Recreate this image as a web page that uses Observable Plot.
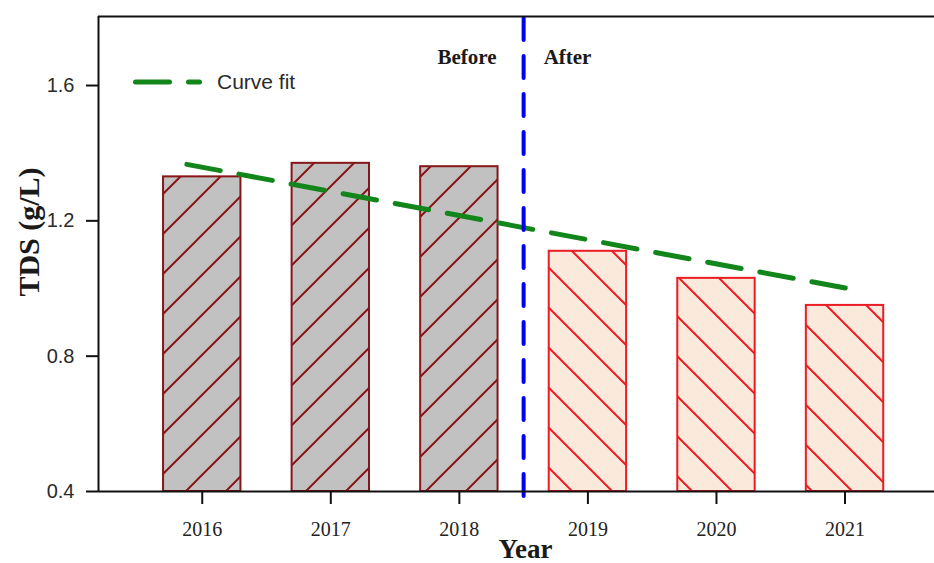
<!DOCTYPE html>
<html><head><meta charset="utf-8">
<script src="https://cdn.jsdelivr.net/npm/d3@7"></script>
<script src="https://cdn.jsdelivr.net/npm/@observablehq/plot@0.6"></script>
<style>
body{margin:0;background:#fff;}
#wrap{position:relative;width:934px;height:563px;overflow:hidden;}
#legendSwatch{position:absolute;left:128px;top:72px;}
#legendText{position:absolute;left:217px;top:69px;font-family:"Liberation Sans",Arial,sans-serif;font-size:21px;line-height:26px;color:#2a2a2a;}
</style></head><body><div id="wrap"></div>
<script>
// ---- data ----
const years = [2016, 2017, 2018, 2019, 2020, 2021];
const tds = [1.33, 1.37, 1.36, 1.11, 1.03, 0.95];
const period = ["Before", "Before", "Before", "After", "After", "After"];
const fitYears = [2015.88, 2021.02];
const fitTds = [1.367, 1.0];
const dividerYear = 2018.5;
const yTicks = [0.4, 0.8, 1.2, 1.6];
const xTicks = years;
const periodLabels = ["Before", "After"];
const legendLabel = "Curve fit";
const xLabel = "Year";
const yLabel = "TDS (g/L)";

// ---- layout constants ----
const xDomain = [2015.193, 2021.696];
const yDomain = [0.4, 1.804];
const halfBar = 0.301;
const green = "#12861a", blue = "#0000f0";
const grayFill = "#c1c1c1", darkRed = "#861618";
const peachFill = "#fbe9dc", red = "#ec1c24";
const serif = "'Liberation Serif','Times New Roman',serif";
const sans = "'Liberation Sans',Arial,sans-serif";

const rows = years.map((y, i) => ({year: y, tds: tds[i], period: period[i]}));
const before = rows.filter(d => d.period === "Before");
const after = rows.filter(d => d.period === "After");
const fit = fitYears.map((y, i) => ({year: y, tds: fitTds[i]}));

const svg = Plot.plot({
  width: 934, height: 563,
  marginTop: 16, marginLeft: 98, marginRight: 0, marginBottom: 72,
  style: {fontFamily: sans, fontSize: "20px", background: "white", color: "#222", overflow: "hidden"},
  x: {type: "linear", domain: xDomain},
  y: {domain: yDomain},
  marks: [
    Plot.rect(before, {x1: d => d.year - halfBar, x2: d => d.year + halfBar, y1: yDomain[0], y2: "tds",
      fill: "url(#hatchBefore)", stroke: darkRed, strokeWidth: 2}),
    Plot.rect(after, {x1: d => d.year - halfBar, x2: d => d.year + halfBar, y1: yDomain[0], y2: "tds",
      fill: "url(#hatchAfter)", stroke: red, strokeWidth: 2}),
    Plot.line(fit, {x: "year", y: "tds", stroke: green, strokeWidth: 5,
      strokeDasharray: "34,19", strokeLinecap: "round"}),
    Plot.ruleX([dividerYear], {stroke: blue, strokeWidth: 4, strokeDasharray: "22,16",
      strokeLinecap: "round", insetBottom: -5, insetTop: 2}),
    Plot.text([periodLabels[0]], {x: () => dividerYear, frameAnchor: "top", lineAnchor: "middle", dy: 41, dx: -27,
      textAnchor: "end", fontFamily: serif, fontWeight: "bold", fontSize: 21, fill: "#1a1a1a"}),
    Plot.text([periodLabels[1]], {x: () => dividerYear, frameAnchor: "top", lineAnchor: "middle", dy: 41, dx: 20,
      textAnchor: "start", fontFamily: serif, fontWeight: "bold", fontSize: 21, fill: "#1a1a1a"}),
    Plot.ruleY([yDomain[0]], {stroke: "#111", strokeWidth: 2}),
    Plot.ruleY([yDomain[1]], {stroke: "#111", strokeWidth: 2}),
    Plot.ruleX([xDomain[0]], {stroke: "#111", strokeWidth: 2}),
    Plot.axisY({ticks: yTicks, tickFormat: d3.format(".1f"), tickSize: 12, tickPadding: 12,
      fontSize: 20, fontFamily: sans, strokeWidth: 2, stroke: "#111", fill: "#2a2a2a", label: null}),
    Plot.axisX({ticks: xTicks, tickFormat: d => String(d), tickSize: 13, tickPadding: 17,
      fontSize: 20, fontFamily: serif, strokeWidth: 2, stroke: "#111", fill: "#222", label: null}),
    Plot.text([xLabel], {frameAnchor: "bottom", lineAnchor: "middle", textAnchor: "middle", dy: 58, dx: 9,
      fontFamily: serif, fontWeight: "bold", fontSize: 27, fill: "#1a1a1a"}),
    Plot.text([yLabel], {frameAnchor: "left", lineAnchor: "middle", textAnchor: "middle", dx: -69, dy: -22,
      rotate: -90, fontFamily: serif, fontWeight: "bold", fontSize: 30, fill: "#1a1a1a"})
  ]
});

// hatch patterns
const defs = `<defs>
<pattern id="hatchBefore" patternUnits="userSpaceOnUse" x="37" y="0" width="40" height="40">
  <rect width="40" height="40" fill="${grayFill}"/>
  <path d="M-5,5 L5,-5 M0,40 L40,0 M35,45 L45,35" stroke="${darkRed}" stroke-width="2"/>
</pattern>
<pattern id="hatchAfter" patternUnits="userSpaceOnUse" x="1" y="0" width="40" height="40">
  <rect width="40" height="40" fill="${peachFill}"/>
  <path d="M0,0 L40,40 M-5,35 L5,45 M35,-5 L45,5" stroke="${red}" stroke-width="2"/>
</pattern></defs>`;
svg.insertAdjacentHTML("afterbegin", defs);

const wrap = document.getElementById("wrap");
wrap.appendChild(svg);

// legend
const sw = document.createElementNS("http://www.w3.org/2000/svg", "svg");
sw.setAttribute("id", "legendSwatch");
sw.setAttribute("width", "80"); sw.setAttribute("height", "20");
sw.innerHTML = `<line x1="7.5" y1="10" x2="71.5" y2="10" stroke="${green}" stroke-width="5" stroke-dasharray="34,19" stroke-linecap="round"/>`;
wrap.appendChild(sw);
const lt = document.createElement("div");
lt.id = "legendText"; lt.textContent = legendLabel;
wrap.appendChild(lt);
</script></body></html>
